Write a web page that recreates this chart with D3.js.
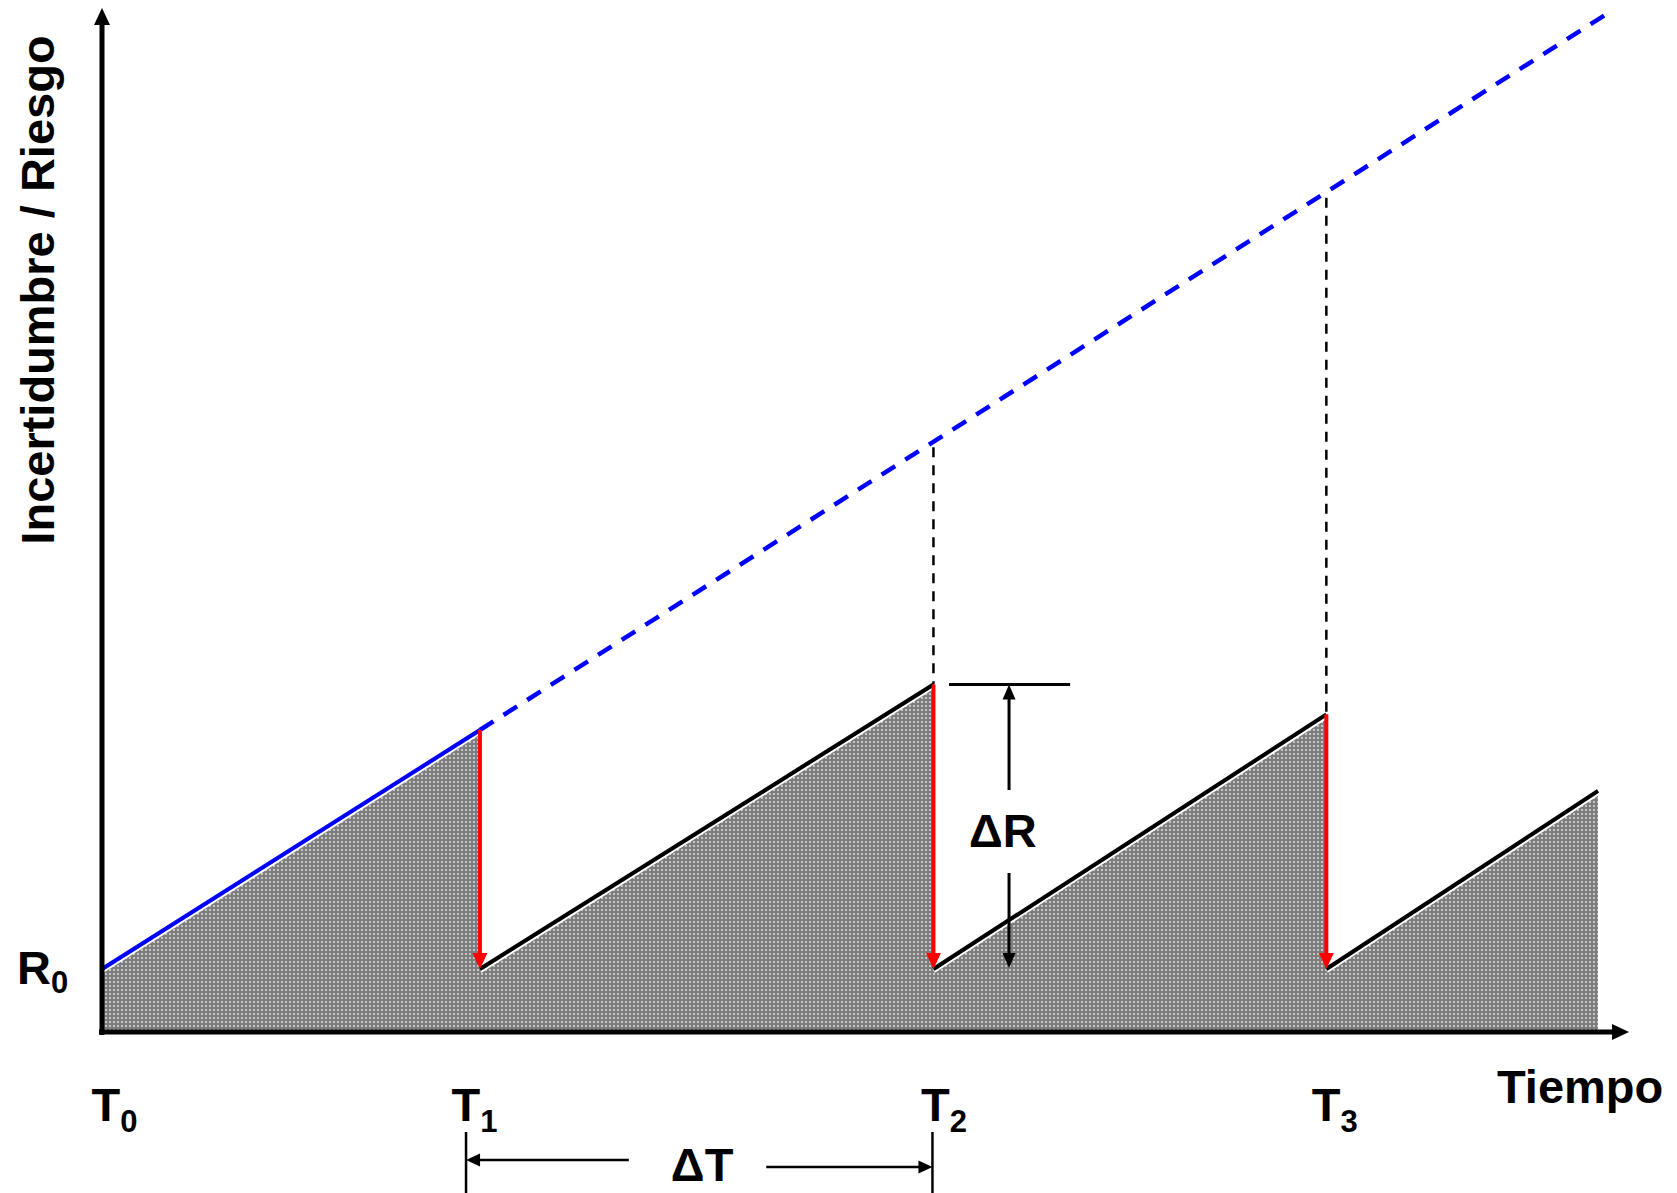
<!DOCTYPE html>
<html>
<head>
<meta charset="utf-8">
<script src="https://cdn.jsdelivr.net/npm/d3@7"></script>
<style>
  html, body { margin: 0; padding: 0; background: #fff; }
  svg { display: block; }
  text { font-family: "Liberation Sans", Arial, sans-serif; font-weight: bold; fill: #000; }
</style>
</head>
<body>
<svg id="chart" width="1677" height="1193"></svg>
<script>
// ── Data ──────────────────────────────────────────────────────────────────────
const tickNames  = ['T', 'T', 'T', 'T'];
const tickSubs   = ['0', '1', '2', '3'];
const resetTimes = [0, 24.75, 54.45, 80.18];      // T0 … T3
const endTime    = 97.97;                          // last drawn instant
const baseRisk   = 6.15;                           // R0
const peakRisk   = [29.49, 33.94, 31.02, 23.54];   // risk just before T1, T2, T3 and at the end
const unmanaged  = [98.43, 99.32];                 // [time, risk] where the dashed trend ends
const yTitle = 'Incertidumbre / Riesgo';
const xTitle = 'Tiempo';

// ── Scales ────────────────────────────────────────────────────────────────────
const x = d3.scaleLinear().domain([0, 100]).range([102, 1629]);
const y = d3.scaleLinear().domain([0, 100]).range([1032, 8]);

const svg = d3.select('#chart');
const FONT = '"Liberation Sans", Arial, sans-serif';

// dotted grey fill
const pat = svg.append('defs').append('pattern')
  .attr('id', 'dots').attr('patternUnits', 'userSpaceOnUse')
  .attr('width', 4).attr('height', 4);
pat.append('rect').attr('width', 4).attr('height', 4).attr('fill', '#7d7d7d');
pat.append('rect').attr('x', 1).attr('y', 1).attr('width', 2).attr('height', 2).attr('fill', '#c6c6c6');

// straight arrow with a filled head at (x2,y2)
function arrow(x1, y1, x2, y2, color, width, headLen, headW) {
  const dx = x2 - x1, dy = y2 - y1, len = Math.hypot(dx, dy);
  const ux = dx / len, uy = dy / len;
  const bx = x2 - ux * headLen, by = y2 - uy * headLen;
  svg.append('line')
    .attr('x1', x1).attr('y1', y1).attr('x2', bx + ux).attr('y2', by + uy)
    .attr('stroke', color).attr('stroke-width', width);
  svg.append('path')
    .attr('d', `M${x2},${y2}L${bx - uy * headW / 2},${by + ux * headW / 2}L${bx + uy * headW / 2},${by - ux * headW / 2}Z`)
    .attr('fill', color);
}

// ── Sawtooth points ───────────────────────────────────────────────────────────
const ends = resetTimes.slice(1).concat([endTime]);
const area = [[0, 0], [0, baseRisk]];
ends.forEach((t, i) => {
  area.push([t, peakRisk[i]]);
  if (i < ends.length - 1) area.push([t, baseRisk]);
});
area.push([endTime, 0]);

svg.append('path')
  .datum(area)
  .attr('d', d3.line().x(d => x(d[0])).y(d => y(d[1])))
  .attr('fill', 'url(#dots)');

// ── Unmanaged trend (blue) ────────────────────────────────────────────────────
const trend = d3.line().x(d => x(d[0])).y(d => y(d[1]));
svg.append('path')
  .datum([[resetTimes[1], peakRisk[0]], unmanaged])
  .attr('d', trend)
  .attr('fill', 'none').attr('stroke', '#0000ff')
  .attr('stroke-width', 4.5).attr('stroke-dasharray', '16 12');

// projection guides at T2 and T3
const slope = (unmanaged[1] - baseRisk) / unmanaged[0];
[2, 3].forEach(i => {
  const t = resetTimes[i];
  svg.append('line')
    .attr('x1', x(t)).attr('x2', x(t))
    .attr('y1', y(baseRisk + slope * t) + 6).attr('y2', y(peakRisk[i - 1]))
    .attr('stroke', '#000').attr('stroke-width', 2.5).attr('stroke-dasharray', '10 8');
});

// ── Sawtooth edges ────────────────────────────────────────────────────────────
ends.forEach((t, i) => {
  const seg = [[resetTimes[i], baseRisk], [t, peakRisk[i]]];
  svg.append('path').datum(seg).attr('d', trend)
    .attr('transform', 'translate(1,3)')
    .attr('fill', 'none').attr('stroke', '#fff').attr('stroke-width', 2);
  svg.append('path').datum(seg).attr('d', trend)
    .attr('fill', 'none')
    .attr('stroke', i === 0 ? '#0000ff' : '#000')
    .attr('stroke-width', 4);
});

// reductions (red)
resetTimes.slice(1).forEach((t, i) => {
  arrow(x(t), y(peakRisk[i]), x(t), y(baseRisk), '#ff0000', 4, 16, 15);
});

// ── Axes ──────────────────────────────────────────────────────────────────────
arrow(x(0) - 3, y(0), x(100), y(0), '#000', 5, 17, 16);
arrow(x(0), y(0) + 3, x(0), y(100), '#000', 5, 17, 16);

const xAxis = svg.append('g')
  .attr('transform', `translate(0,${y(0)})`)
  .call(d3.axisBottom(x).tickValues(resetTimes).tickSize(0).tickPadding(0));
xAxis.select('.domain').remove();
xAxis.attr('font-size', null).attr('font-family', null);
const nudge = [12, -6, 10, 8];
xAxis.selectAll('.tick text').each(function (d, i) {
  const t = d3.select(this)
    .text(null)
    .attr('x', nudge[i]).attr('y', 89).attr('dy', null)
    .attr('text-anchor', 'middle')
    .style('font-family', FONT).style('font-weight', 'bold')
    .style('font-size', '47px').attr('fill', '#000');
  t.append('tspan').text(tickNames[i]);
  t.append('tspan').attr('dy', 11).style('font-size', '31px').text(tickSubs[i]);
});

// R0 label
const r0 = svg.append('text').attr('x', 17).attr('y', y(baseRisk) + 15).style('font-size', '47px');
r0.append('tspan').text('R');
r0.append('tspan').attr('dy', 9).style('font-size', '31px').text('0');

svg.append('text').attr('x', 1497).attr('y', 1103).style('font-size', '47px').text(xTitle);
svg.append('text')
  .attr('transform', 'translate(54,290) rotate(-90)')
  .attr('text-anchor', 'middle').style('font-size', '47px').text(yTitle);

// ── ΔR dimension ──────────────────────────────────────────────────────────────
const drX = x(59.4);
svg.append('line')
  .attr('x1', x(55.47)).attr('x2', x(63.4))
  .attr('y1', y(peakRisk[1])).attr('y2', y(peakRisk[1]))
  .attr('stroke', '#000').attr('stroke-width', 3);
arrow(drX, y(23.63), drX, y(peakRisk[1]), '#000', 3, 15, 13);
arrow(drX, y(15.53), drX, y(baseRisk) - 1, '#000', 3, 15, 13);
svg.append('text').attr('x', x(59.0)).attr('y', y(18.07))
  .attr('text-anchor', 'middle').style('font-size', '47px').text('ΔR');

// ── ΔT dimension ──────────────────────────────────────────────────────────────
const dtL = x(23.84), dtR = x(resetTimes[2]) - 1;
[dtL, dtR].forEach(px => {
  svg.append('line').attr('x1', px).attr('x2', px)
    .attr('y1', y(0) + 100).attr('y2', 1193)
    .attr('stroke', '#000').attr('stroke-width', 2.5);
});
arrow(x(34.5), y(0) + 128, dtL, y(0) + 128, '#000', 2.5, 14, 13);
arrow(x(43.5), y(0) + 135, dtR, y(0) + 135, '#000', 2.5, 14, 13);
svg.append('text').attr('x', x(39.3)).attr('y', y(0) + 149)
  .attr('text-anchor', 'middle').style('font-size', '47px').text('ΔT');
</script>
</body>
</html>
